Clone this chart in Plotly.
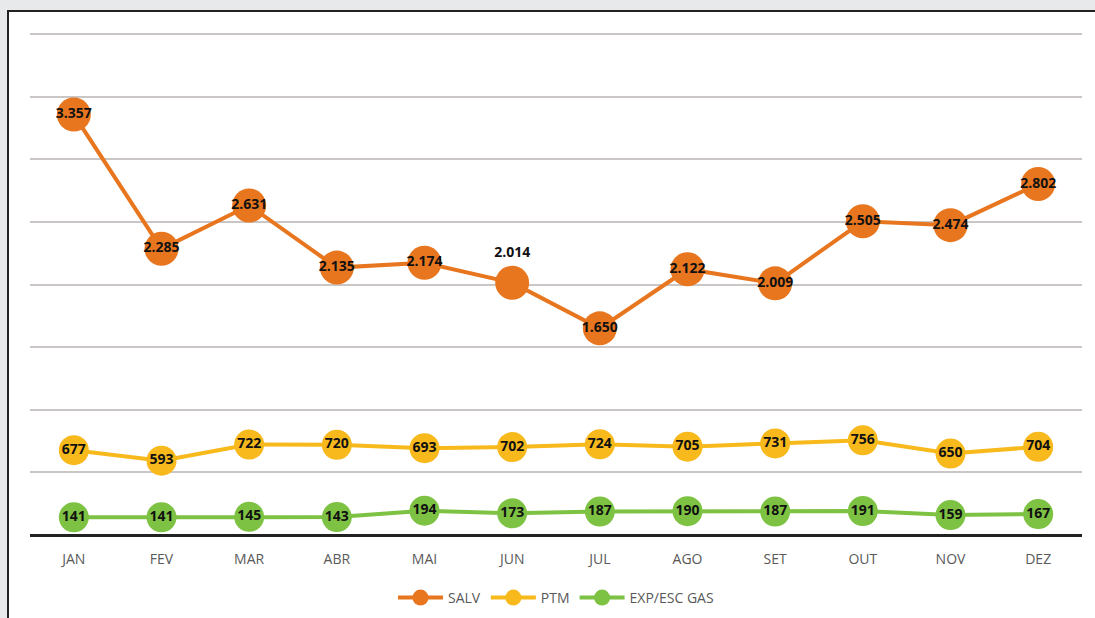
import plotly.graph_objects as go

months = ["JAN", "FEV", "MAR", "ABR", "MAI", "JUN", "JUL", "AGO", "SET", "OUT", "NOV", "DEZ"]
salv = [3357, 2285, 2631, 2135, 2174, 2014, 1650, 2122, 2009, 2505, 2474, 2802]
ptm = [677, 593, 722, 720, 693, 702, 724, 705, 731, 756, 650, 704]
exp_gas = [141, 141, 145, 143, 194, 173, 187, 190, 187, 191, 159, 167]
grid_vals = [500, 1000, 1500, 2000, 2500, 3000, 3500, 4000]

salv_pos = ["middle center"] * 12
salv_pos[5] = "top center"


def fmt(v):
    return f"{v:,}".replace(",", ".")


L, R, T, B = 30, 13, 28, 83
W, H = 1095, 618
pw, ph = W - L - R, H - T - B
YMAX = 4000 * ph / 501.0


def px_x(px):
    return (px - L) / pw


def px_y(py):
    return (H - B - py) / ph


fig = go.Figure()

series = [
    ("SALV", salv, "#e8761f", 34, salv_pos),
    ("PTM", ptm, "#f7b91b", 30, ["middle center"] * 12),
    ("EXP/ESC GAS", exp_gas, "#7dc242", 30, ["middle center"] * 12),
]
for name, vals, color, size, pos in series:
    fig.add_trace(go.Scatter(
        x=months, y=vals, name=name, mode="lines+markers+text",
        line=dict(color=color, width=4),
        marker=dict(color=color, size=size),
        text=[fmt(v) for v in vals], textposition=pos,
        textfont=dict(family="Open Sans", size=14, color="#111111", weight="bold"),
        cliponaxis=False,
    ))

fig.add_shape(type="rect", xref="paper", yref="paper",
              x0=px_x(8), x1=px_x(1120), y0=px_y(650), y1=px_y(11),
              fillcolor="white", line=dict(color="#222222", width=2), layer="below")

fig.update_layout(
    width=W, height=H,
    margin=dict(l=L, r=R, t=T, b=B, autoexpand=False),
    paper_bgcolor="#e8e9eb", plot_bgcolor="white",
    showlegend=True,
    legend=dict(orientation="h", x=0.5, xanchor="center", y=px_y(598), yanchor="middle",
                font=dict(family="Open Sans", size=14, color="#595959"),
                bgcolor="rgba(0,0,0,0)", itemwidth=45),
    xaxis=dict(range=[-0.5, 11.5], showgrid=False, showline=False, ticks="",
               ticklabelstandoff=14,
               tickfont=dict(family="Open Sans", size=14, color="#595959"), zeroline=False),
    yaxis=dict(range=[0, YMAX], tickvals=grid_vals,
               showticklabels=False, gridcolor="#cbc6c6",
               gridwidth=1.5, zeroline=True, zerolinecolor="#222222", zerolinewidth=3,
               showline=False, ticks=""),
)

fig.write_html("out.html", config={"displayModeBar": False},
               post_script="document.body.style.margin='0';document.body.style.overflow='hidden';")
